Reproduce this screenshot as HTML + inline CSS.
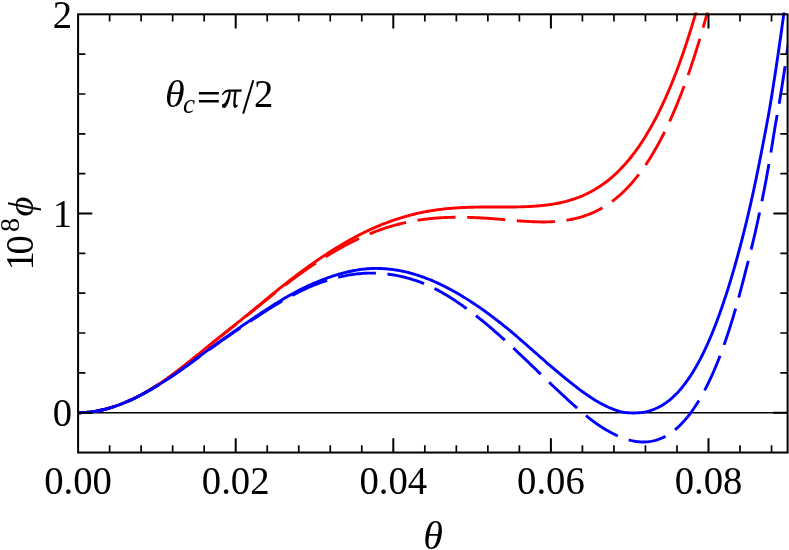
<!DOCTYPE html><html><head><meta charset="utf-8"><style>
html,body{margin:0;padding:0;background:#fff}svg{display:block;will-change:transform}text{font-family:"Liberation Serif",serif;fill:#000}
</style></head><body>
<svg width="789" height="550" viewBox="0 0 789 550">
<rect width="789" height="550" fill="#fff"/>
<defs><clipPath id="c"><rect x="78.1" y="12.400000000000011" width="709.5" height="440.13999999999993"/></clipPath></defs>
<line x1="78.1" y1="412.7" x2="787.6" y2="412.7" stroke="#000" stroke-width="1.6"/>
<g clip-path="url(#c)" fill="none" stroke-width="2.9" stroke-linejoin="round">
<path d="M78.10,412.70 L79.29,412.71 L80.48,412.69 L81.67,412.67 L82.86,412.63 L84.05,412.57 L85.24,412.50 L86.43,412.41 L87.62,412.31 L88.81,412.20 L90.01,412.07 L91.20,411.93 L92.39,411.77 L93.58,411.60 L94.77,411.41 L95.96,411.22 L97.15,411.00 L98.34,410.78 L99.53,410.54 L100.72,410.28 L101.91,410.02 L103.10,409.74 L104.29,409.45 L105.48,409.14 L106.67,408.82 L107.86,408.49 L109.05,408.15 L110.24,407.79 L111.44,407.43 L112.63,407.05 L113.82,406.66 L115.01,406.27 L116.20,405.86 L117.39,405.44 L118.58,405.01 L119.77,404.57 L120.96,404.12 L122.15,403.66 L123.34,403.18 L124.53,402.70 L125.72,402.21 L126.91,401.70 L128.10,401.18 L129.29,400.65 L130.48,400.11 L131.67,399.56 L132.87,399.00 L134.06,398.42 L135.25,397.83 L136.44,397.23 L137.63,396.62 L138.82,396.00 L140.01,395.36 L141.20,394.72 L142.39,394.06 L143.58,393.40 L144.77,392.72 L145.96,392.04 L147.15,391.35 L148.34,390.65 L149.53,389.94 L150.72,389.22 L151.91,388.50 L153.10,387.76 L154.30,387.02 L155.49,386.27 L156.68,385.50 L157.87,384.74 L159.06,383.96 L160.25,383.17 L161.44,382.38 L162.63,381.58 L163.82,380.77 L165.01,379.95 L166.20,379.13 L167.39,378.29 L168.58,377.45 L169.77,376.61 L170.96,375.75 L172.15,374.88 L173.34,374.01 L174.53,373.12 L175.73,372.23 L176.92,371.33 L178.11,370.42 L179.30,369.51 L180.49,368.59 L181.68,367.66 L182.87,366.72 L184.06,365.79 L185.25,364.84 L186.44,363.89 L187.63,362.94 L188.82,361.99 L190.01,361.03 L191.20,360.06 L192.39,359.10 L193.58,358.13 L194.77,357.17 L195.96,356.20 L197.16,355.23 L198.35,354.26 L199.54,353.29 L200.73,352.32 L201.92,351.35 L203.11,350.38 L204.30,349.42 L205.49,348.45 L206.68,347.49 L207.87,346.53 L209.06,345.57 L210.25,344.61 L211.44,343.66 L212.63,342.70 L213.82,341.74 L215.01,340.79 L216.20,339.84 L217.39,338.88 L218.59,337.93 L219.78,336.98 L220.97,336.03 L222.16,335.07 L223.35,334.12 L224.54,333.17 L225.73,332.22 L226.92,331.27 L228.11,330.32 L229.30,329.37 L230.49,328.42 L231.68,327.46 L232.87,326.51 L234.06,325.56 L235.25,324.60 L236.44,323.65 L237.63,322.69 L238.82,321.74 L240.01,320.78 L241.21,319.82 L242.40,318.86 L243.59,317.90 L244.78,316.94 L245.97,315.97 L247.16,315.01 L248.35,314.04 L249.54,313.07 L250.73,312.10 L251.92,311.13 L253.11,310.15 L254.30,309.18 L255.49,308.20 L256.68,307.22 L257.87,306.23 L259.06,305.24 L260.25,304.25 L261.44,303.27 L262.64,302.28 L263.83,301.29 L265.02,300.31 L266.21,299.33 L267.40,298.35 L268.59,297.37 L269.78,296.39 L270.97,295.42 L272.16,294.45 L273.35,293.48 L274.54,292.51 L275.73,291.55 L276.92,290.59 L278.11,289.63 L279.30,288.68 L280.49,287.73 L281.68,286.78 L282.87,285.84 L284.07,284.89 L285.26,283.96 L286.45,283.02 L287.64,282.09 L288.83,281.16 L290.02,280.24 L291.21,279.32 L292.40,278.40 L293.59,277.49 L294.78,276.58 L295.97,275.68 L297.16,274.78 L298.35,273.88 L299.54,272.99 L300.73,272.11 L301.92,271.22 L303.11,270.35 L304.30,269.47 L305.50,268.61 L306.69,267.74 L307.88,266.89 L309.07,266.03 L310.26,265.18 L311.45,264.34 L312.64,263.50 L313.83,262.67 L315.02,261.84 L316.21,261.02 L317.40,260.20 L318.59,259.39 L319.78,258.59 L320.97,257.79 L322.16,256.99 L323.35,256.20 L324.54,255.41 L325.73,254.63 L326.93,253.85 L328.12,253.08 L329.31,252.32 L330.50,251.55 L331.69,250.80 L332.88,250.05 L334.07,249.30 L335.26,248.56 L336.45,247.83 L337.64,247.10 L338.83,246.37 L340.02,245.65 L341.21,244.94 L342.40,244.24 L343.59,243.54 L344.78,242.84 L345.97,242.15 L347.16,241.47 L348.36,240.80 L349.55,240.13 L350.74,239.47 L351.93,238.81 L353.12,238.16 L354.31,237.52 L355.50,236.88 L356.69,236.25 L357.88,235.63 L359.07,235.01 L360.26,234.40 L361.45,233.80 L362.64,233.20 L363.83,232.61 L365.02,232.03 L366.21,231.46 L367.40,230.89 L368.59,230.33 L369.78,229.78 L370.98,229.23 L372.17,228.69 L373.36,228.16 L374.55,227.64 L375.74,227.12 L376.93,226.61 L378.12,226.11 L379.31,225.62 L380.50,225.14 L381.69,224.66 L382.88,224.18 L384.07,223.72 L385.26,223.26 L386.45,222.81 L387.64,222.36 L388.83,221.92 L390.02,221.49 L391.21,221.07 L392.41,220.65 L393.60,220.23 L394.79,219.83 L395.98,219.43 L397.17,219.04 L398.36,218.65 L399.55,218.28 L400.74,217.91 L401.93,217.54 L403.12,217.18 L404.31,216.83 L405.50,216.49 L406.69,216.15 L407.88,215.82 L409.07,215.50 L410.26,215.18 L411.45,214.87 L412.64,214.57 L413.84,214.28 L415.03,213.99 L416.22,213.70 L417.41,213.43 L418.60,213.16 L419.79,212.90 L420.98,212.64 L422.17,212.39 L423.36,212.15 L424.55,211.92 L425.74,211.69 L426.93,211.47 L428.12,211.25 L429.31,211.05 L430.50,210.84 L431.69,210.65 L432.88,210.46 L434.07,210.28 L435.27,210.10 L436.46,209.93 L437.65,209.77 L438.84,209.61 L440.03,209.46 L441.22,209.32 L442.41,209.18 L443.60,209.04 L444.79,208.92 L445.98,208.79 L447.17,208.67 L448.36,208.56 L449.55,208.45 L450.74,208.35 L451.93,208.25 L453.12,208.16 L454.31,208.07 L455.50,207.98 L456.70,207.90 L457.89,207.83 L459.08,207.75 L460.27,207.69 L461.46,207.62 L462.65,207.56 L463.84,207.51 L465.03,207.45 L466.22,207.40 L467.41,207.36 L468.60,207.32 L469.79,207.28 L470.98,207.24 L472.17,207.21 L473.36,207.18 L474.55,207.15 L475.74,207.13 L476.93,207.11 L478.13,207.09 L479.32,207.07 L480.51,207.06 L481.70,207.04 L482.89,207.03 L484.08,207.02 L485.27,207.02 L486.46,207.01 L487.65,207.01 L488.84,207.00 L490.03,207.00 L491.22,207.00 L492.41,207.00 L493.60,207.00 L494.79,207.00 L495.98,207.00 L497.17,207.00 L498.36,207.01 L499.56,207.01 L500.75,207.01 L501.94,207.01 L503.13,207.01 L504.32,207.01 L505.51,207.01 L506.70,207.01 L507.89,207.00 L509.08,207.00 L510.27,206.99 L511.46,206.98 L512.65,206.97 L513.84,206.96 L515.03,206.95 L516.22,206.93 L517.41,206.91 L518.60,206.88 L519.79,206.86 L520.98,206.83 L522.18,206.80 L523.37,206.76 L524.56,206.72 L525.75,206.67 L526.94,206.63 L528.13,206.57 L529.32,206.52 L530.51,206.45 L531.70,206.39 L532.89,206.31 L534.08,206.24 L535.27,206.15 L536.46,206.06 L537.65,205.97 L538.84,205.87 L540.03,205.76 L541.22,205.65 L542.41,205.52 L543.61,205.40 L544.80,205.26 L545.99,205.12 L547.18,204.97 L548.37,204.81 L549.56,204.64 L550.75,204.46 L551.94,204.28 L553.13,204.09 L554.32,203.88 L555.51,203.67 L556.70,203.45 L557.89,203.22 L559.08,202.98 L560.27,202.72 L561.46,202.46 L562.65,202.19 L563.84,201.90 L565.04,201.60 L566.23,201.30 L567.42,200.97 L568.61,200.64 L569.80,200.29 L570.99,199.94 L572.18,199.56 L573.37,199.18 L574.56,198.78 L575.75,198.36 L576.94,197.93 L578.13,197.49 L579.32,197.03 L580.51,196.56 L581.70,196.07 L582.89,195.56 L584.08,195.04 L585.27,194.50 L586.47,193.95 L587.66,193.37 L588.85,192.78 L590.04,192.17 L591.23,191.54 L592.42,190.89 L593.61,190.22 L594.80,189.53 L595.99,188.82 L597.18,188.09 L598.37,187.34 L599.56,186.57 L600.75,185.78 L601.94,184.97 L603.13,184.13 L604.32,183.27 L605.51,182.38 L606.70,181.48 L607.90,180.55 L609.09,179.59 L610.28,178.61 L611.47,177.61 L612.66,176.58 L613.85,175.52 L615.04,174.44 L616.23,173.33 L617.42,172.19 L618.61,171.03 L619.80,169.83 L620.99,168.61 L622.18,167.36 L623.37,166.08 L624.56,164.77 L625.75,163.43 L626.94,162.06 L628.13,160.66 L629.33,159.23 L630.52,157.76 L631.71,156.26 L632.90,154.73 L634.09,153.17 L635.28,151.57 L636.47,149.94 L637.66,148.27 L638.85,146.56 L640.04,144.82 L641.23,143.05 L642.42,141.23 L643.61,139.38 L644.80,137.49 L645.99,135.57 L647.18,133.60 L648.37,131.59 L649.56,129.55 L650.75,127.46 L651.95,125.33 L653.14,123.16 L654.33,120.95 L655.52,118.70 L656.71,116.40 L657.90,114.06 L659.09,111.67 L660.28,109.24 L661.47,106.76 L662.66,104.24 L663.85,101.67 L665.04,99.05 L666.23,96.38 L667.42,93.67 L668.61,90.91 L669.80,88.09 L670.99,85.23 L672.18,82.31 L673.38,79.35 L674.57,76.33 L675.76,73.26 L676.95,70.13 L678.14,66.95 L679.33,63.72 L680.52,60.43 L681.71,57.09 L682.90,53.68 L684.09,50.22 L685.28,46.71 L686.47,43.13 L687.66,39.49 L688.85,35.80 L690.04,32.04 L691.23,28.22 L692.42,24.34 L693.61,20.40 L694.81,16.39 L696.00,12.32 L697.19,8.18 L698.38,3.98 L699.57,-0.29 L700.76,-4.63 L701.95,-9.03 L703.14,-13.51 L704.33,-18.05 L705.52,-22.66 L706.71,-27.35 L707.90,-32.10" stroke="#f00"/>
<path d="M78.10,412.70 L79.29,412.71 L80.48,412.69 L81.67,412.67 L82.86,412.63 L84.05,412.57 L85.24,412.50 L86.43,412.41 L87.62,412.31 L88.81,412.20 L90.01,412.07 L91.20,411.93 L92.39,411.77 L93.58,411.60 L94.77,411.41 L95.96,411.22 L97.15,411.00 L98.34,410.78 L99.53,410.54 L100.72,410.28 L101.91,410.02 L103.10,409.74 L104.29,409.45 L105.48,409.14 L106.67,408.82 L107.86,408.49 L109.05,408.15 L110.24,407.79 L111.44,407.43 L112.63,407.05 L113.82,406.66 L115.01,406.27 L116.20,405.86 L117.39,405.44 L118.58,405.01 L119.77,404.57 L120.96,404.12 L122.15,403.66 L123.34,403.19 L124.53,402.70 L125.72,402.21 L126.91,401.70 L128.10,401.18 L129.29,400.65 L130.48,400.11 L131.67,399.56 L132.87,399.00 L134.06,398.42 L135.25,397.84 L136.44,397.24 L137.63,396.63 L138.82,396.00 L140.01,395.37 L141.20,394.72 L142.39,394.07 L143.58,393.40 L144.77,392.73 L145.96,392.05 L147.15,391.35 L148.34,390.65 L149.53,389.95 L150.72,389.23 L151.91,388.50 L153.10,387.77 L154.30,387.02 L155.49,386.27 L156.68,385.51 L157.87,384.75 L159.06,383.97 L160.25,383.18 L161.44,382.39 L162.63,381.59 L163.82,380.78 L165.01,379.97 L166.20,379.14 L167.39,378.31 L168.58,377.47 L169.77,376.63 L170.96,375.77 L172.15,374.91 L173.34,374.03 L174.53,373.15 L175.73,372.26 L176.92,371.36 L178.11,370.45 L179.30,369.54 L180.49,368.62 L181.68,367.70 L182.87,366.76 L184.06,365.83 L185.25,364.89 L186.44,363.94 L187.63,362.99 L188.82,362.04 L190.01,361.08 L191.20,360.12 L192.39,359.16 L193.58,358.20 L194.77,357.23 L195.96,356.27 L197.16,355.30 L198.35,354.34 L199.54,353.37 L200.73,352.40 L201.92,351.44 L203.11,350.48 L204.30,349.52 L205.49,348.56 L206.68,347.60 L207.87,346.65 L209.06,345.69 L210.25,344.74 L211.44,343.79 L212.63,342.84 L213.82,341.89 L215.01,340.94 L216.20,339.99 L217.39,339.04 L218.59,338.10 L219.78,337.15 L220.97,336.21 L222.16,335.26 L223.35,334.32 L224.54,333.38 L225.73,332.43 L226.92,331.49 L228.11,330.55 L229.30,329.60 L230.49,328.66 L231.68,327.72 L232.87,326.77 L234.06,325.83 L235.25,324.89 L236.44,323.94 L237.63,323.00 L238.82,322.05 L240.01,321.11 L241.21,320.16 L242.40,319.21 L243.59,318.26 L244.78,317.31 L245.97,316.36 L247.16,315.41 L248.35,314.45 L249.54,313.50 L250.73,312.54 L251.92,311.58 L253.11,310.62 L254.30,309.66 L255.49,308.69 L256.68,307.73 L257.87,306.76 L259.06,305.79 L260.25,304.81 L261.44,303.84 L262.64,302.87 L263.83,301.90 L265.02,300.93 L266.21,299.97 L267.40,299.01 L268.59,298.05 L269.78,297.09 L270.97,296.14 L272.16,295.19 L273.35,294.24 L274.54,293.29 L275.73,292.35 L276.92,291.41 L278.11,290.48 L279.30,289.55 L280.49,288.62 L281.68,287.69 L282.87,286.77 L284.07,285.85 L285.26,284.94 L286.45,284.03 L287.64,283.12 L288.83,282.22 L290.02,281.32 L291.21,280.43 L292.40,279.54 L293.59,278.66 L294.78,277.78 L295.97,276.90 L297.16,276.03 L298.35,275.17 L299.54,274.30 L300.73,273.45 L301.92,272.60 L303.11,271.75 L304.30,270.91 L305.50,270.07 L306.69,269.24 L307.88,268.42 L309.07,267.60 L310.26,266.78 L311.45,265.98 L312.64,265.17 L313.83,264.38 L315.02,263.58 L316.21,262.80 L317.40,262.02 L318.59,261.25 L319.78,260.48 L320.97,259.72 L322.16,258.96 L323.35,258.21 L324.54,257.46 L325.73,256.72 L326.93,255.99 L328.12,255.26 L329.31,254.53 L330.50,253.82 L331.69,253.10 L332.88,252.40 L334.07,251.70 L335.26,251.00 L336.45,250.31 L337.64,249.63 L338.83,248.96 L340.02,248.29 L341.21,247.62 L342.40,246.97 L343.59,246.32 L344.78,245.67 L345.97,245.03 L347.16,244.40 L348.36,243.78 L349.55,243.16 L350.74,242.55 L351.93,241.95 L353.12,241.35 L354.31,240.77 L355.50,240.18 L356.69,239.61 L357.88,239.04 L359.07,238.48 L360.26,237.93 L361.45,237.38 L362.64,236.85 L363.83,236.32 L365.02,235.79 L366.21,235.28 L367.40,234.77 L368.59,234.27 L369.78,233.78 L370.98,233.29 L372.17,232.81 L373.36,232.35 L374.55,231.88 L375.74,231.43 L376.93,230.99 L378.12,230.55 L379.31,230.12 L380.50,229.70 L381.69,229.28 L382.88,228.88 L384.07,228.48 L385.26,228.09 L386.45,227.70 L387.64,227.33 L388.83,226.96 L390.02,226.59 L391.21,226.24 L392.41,225.89 L393.60,225.55 L394.79,225.22 L395.98,224.90 L397.17,224.58 L398.36,224.27 L399.55,223.97 L400.74,223.67 L401.93,223.38 L403.12,223.10 L404.31,222.83 L405.50,222.56 L406.69,222.30 L407.88,222.05 L409.07,221.81 L410.26,221.57 L411.45,221.34 L412.64,221.12 L413.84,220.90 L415.03,220.69 L416.22,220.49 L417.41,220.29 L418.60,220.10 L419.79,219.92 L420.98,219.74 L422.17,219.57 L423.36,219.41 L424.55,219.25 L425.74,219.10 L426.93,218.96 L428.12,218.82 L429.31,218.69 L430.50,218.57 L431.69,218.45 L432.88,218.34 L434.07,218.23 L435.27,218.14 L436.46,218.04 L437.65,217.95 L438.84,217.87 L440.03,217.80 L441.22,217.73 L442.41,217.66 L443.60,217.60 L444.79,217.54 L445.98,217.49 L447.17,217.45 L448.36,217.40 L449.55,217.37 L450.74,217.34 L451.93,217.31 L453.12,217.29 L454.31,217.27 L455.50,217.25 L456.70,217.24 L457.89,217.24 L459.08,217.24 L460.27,217.24 L461.46,217.25 L462.65,217.26 L463.84,217.27 L465.03,217.29 L466.22,217.32 L467.41,217.34 L468.60,217.38 L469.79,217.41 L470.98,217.45 L472.17,217.49 L473.36,217.54 L474.55,217.58 L475.74,217.64 L476.93,217.69 L478.13,217.75 L479.32,217.81 L480.51,217.88 L481.70,217.94 L482.89,218.01 L484.08,218.09 L485.27,218.16 L486.46,218.24 L487.65,218.32 L488.84,218.40 L490.03,218.49 L491.22,218.57 L492.41,218.66 L493.60,218.75 L494.79,218.85 L495.98,218.94 L497.17,219.03 L498.36,219.13 L499.56,219.23 L500.75,219.33 L501.94,219.43 L503.13,219.53 L504.32,219.63 L505.51,219.74 L506.70,219.84 L507.89,219.94 L509.08,220.05 L510.27,220.15 L511.46,220.26 L512.65,220.36 L513.84,220.46 L515.03,220.56 L516.22,220.66 L517.41,220.75 L518.60,220.84 L519.79,220.94 L520.98,221.02 L522.18,221.11 L523.37,221.19 L524.56,221.27 L525.75,221.35 L526.94,221.42 L528.13,221.49 L529.32,221.56 L530.51,221.62 L531.70,221.67 L532.89,221.73 L534.08,221.77 L535.27,221.81 L536.46,221.85 L537.65,221.88 L538.84,221.91 L540.03,221.92 L541.22,221.94 L542.41,221.94 L543.61,221.94 L544.80,221.94 L545.99,221.92 L547.18,221.90 L548.37,221.87 L549.56,221.83 L550.75,221.78 L551.94,221.73 L553.13,221.66 L554.32,221.59 L555.51,221.51 L556.70,221.42 L557.89,221.31 L559.08,221.20 L560.27,221.08 L561.46,220.95 L562.65,220.80 L563.84,220.65 L565.04,220.48 L566.23,220.30 L567.42,220.11 L568.61,219.91 L569.80,219.69 L570.99,219.47 L572.18,219.22 L573.37,218.97 L574.56,218.70 L575.75,218.42 L576.94,218.12 L578.13,217.80 L579.32,217.48 L580.51,217.13 L581.70,216.78 L582.89,216.40 L584.08,216.02 L585.27,215.61 L586.47,215.19 L587.66,214.76 L588.85,214.30 L590.04,213.83 L591.23,213.35 L592.42,212.84 L593.61,212.32 L594.80,211.77 L595.99,211.21 L597.18,210.63 L598.37,210.02 L599.56,209.40 L600.75,208.75 L601.94,208.09 L603.13,207.40 L604.32,206.69 L605.51,205.95 L606.70,205.19 L607.90,204.41 L609.09,203.60 L610.28,202.77 L611.47,201.91 L612.66,201.03 L613.85,200.12 L615.04,199.18 L616.23,198.22 L617.42,197.23 L618.61,196.21 L619.80,195.16 L620.99,194.08 L622.18,192.98 L623.37,191.84 L624.56,190.68 L625.75,189.49 L626.94,188.27 L628.13,187.02 L629.33,185.74 L630.52,184.43 L631.71,183.09 L632.90,181.71 L634.09,180.31 L635.28,178.87 L636.47,177.40 L637.66,175.89 L638.85,174.35 L640.04,172.78 L641.23,171.17 L642.42,169.53 L643.61,167.85 L644.80,166.14 L645.99,164.39 L647.18,162.60 L648.37,160.78 L649.56,158.91 L650.75,157.01 L651.95,155.07 L653.14,153.09 L654.33,151.08 L655.52,149.02 L656.71,146.92 L657.90,144.77 L659.09,142.59 L660.28,140.36 L661.47,138.10 L662.66,135.78 L663.85,133.43 L665.04,131.03 L666.23,128.58 L667.42,126.09 L668.61,123.56 L669.80,120.97 L670.99,118.34 L672.18,115.66 L673.38,112.94 L674.57,110.16 L675.76,107.34 L676.95,104.47 L678.14,101.54 L679.33,98.57 L680.52,95.54 L681.71,92.46 L682.90,89.33 L684.09,86.15 L685.28,82.91 L686.47,79.62 L687.66,76.27 L688.85,72.87 L690.04,69.41 L691.23,65.89 L692.42,62.32 L693.61,58.69 L694.81,55.00 L696.00,51.25 L697.19,47.44 L698.38,43.57 L699.57,39.64 L700.76,35.65 L701.95,31.59 L703.14,27.47 L704.33,23.29 L705.52,19.05 L706.71,14.74 L707.90,10.36 L709.09,5.92 L710.28,1.41 L711.47,-3.17 L712.66,-7.81 L713.85,-12.52 L715.04,-17.31 L716.24,-22.16 L717.43,-27.09 L718.62,-32.08" stroke="#f00" stroke-dasharray="38.2 11.6" stroke-dashoffset="2"/>
<path d="M78.10,412.70 L79.29,412.71 L80.48,412.69 L81.67,412.67 L82.86,412.63 L84.05,412.57 L85.24,412.50 L86.43,412.41 L87.62,412.31 L88.81,412.20 L90.01,412.07 L91.20,411.93 L92.39,411.77 L93.58,411.60 L94.77,411.42 L95.96,411.22 L97.15,411.00 L98.34,410.78 L99.53,410.54 L100.72,410.29 L101.91,410.02 L103.10,409.74 L104.29,409.45 L105.48,409.15 L106.67,408.83 L107.86,408.50 L109.05,408.16 L110.24,407.81 L111.44,407.44 L112.63,407.06 L113.82,406.68 L115.01,406.28 L116.20,405.87 L117.39,405.45 L118.58,405.02 L119.77,404.58 L120.96,404.13 L122.15,403.67 L123.34,403.19 L124.53,402.71 L125.72,402.22 L126.91,401.72 L128.10,401.20 L129.29,400.68 L130.48,400.14 L131.67,399.60 L132.87,399.05 L134.06,398.48 L135.25,397.91 L136.44,397.32 L137.63,396.73 L138.82,396.13 L140.01,395.51 L141.20,394.89 L142.39,394.26 L143.58,393.62 L144.77,392.98 L145.96,392.32 L147.15,391.66 L148.34,390.99 L149.53,390.31 L150.72,389.63 L151.91,388.93 L153.10,388.23 L154.30,387.53 L155.49,386.81 L156.68,386.09 L157.87,385.36 L159.06,384.62 L160.25,383.88 L161.44,383.13 L162.63,382.37 L163.82,381.60 L165.01,380.83 L166.20,380.05 L167.39,379.27 L168.58,378.48 L169.77,377.68 L170.96,376.87 L172.15,376.06 L173.34,375.24 L174.53,374.42 L175.73,373.59 L176.92,372.76 L178.11,371.92 L179.30,371.08 L180.49,370.24 L181.68,369.39 L182.87,368.53 L184.06,367.67 L185.25,366.81 L186.44,365.95 L187.63,365.08 L188.82,364.21 L190.01,363.34 L191.20,362.47 L192.39,361.60 L193.58,360.72 L194.77,359.84 L195.96,358.96 L197.16,358.08 L198.35,357.20 L199.54,356.32 L200.73,355.44 L201.92,354.56 L203.11,353.68 L204.30,352.81 L205.49,351.93 L206.68,351.06 L207.87,350.19 L209.06,349.32 L210.25,348.45 L211.44,347.59 L212.63,346.73 L213.82,345.87 L215.01,345.01 L216.20,344.15 L217.39,343.29 L218.59,342.44 L219.78,341.59 L220.97,340.74 L222.16,339.89 L223.35,339.04 L224.54,338.20 L225.73,337.36 L226.92,336.52 L228.11,335.68 L229.30,334.84 L230.49,334.00 L231.68,333.17 L232.87,332.34 L234.06,331.50 L235.25,330.68 L236.44,329.85 L237.63,329.02 L238.82,328.20 L240.01,327.38 L241.21,326.55 L242.40,325.73 L243.59,324.92 L244.78,324.10 L245.97,323.29 L247.16,322.47 L248.35,321.66 L249.54,320.85 L250.73,320.04 L251.92,319.23 L253.11,318.43 L254.30,317.62 L255.49,316.82 L256.68,316.02 L257.87,315.22 L259.06,314.42 L260.25,313.62 L261.44,312.82 L262.64,312.03 L263.83,311.24 L265.02,310.46 L266.21,309.68 L267.40,308.90 L268.59,308.13 L269.78,307.36 L270.97,306.60 L272.16,305.84 L273.35,305.09 L274.54,304.34 L275.73,303.60 L276.92,302.86 L278.11,302.13 L279.30,301.40 L280.49,300.68 L281.68,299.97 L282.87,299.26 L284.07,298.56 L285.26,297.86 L286.45,297.17 L287.64,296.48 L288.83,295.80 L290.02,295.13 L291.21,294.47 L292.40,293.81 L293.59,293.16 L294.78,292.52 L295.97,291.88 L297.16,291.25 L298.35,290.63 L299.54,290.01 L300.73,289.40 L301.92,288.81 L303.11,288.21 L304.30,287.63 L305.50,287.05 L306.69,286.49 L307.88,285.93 L309.07,285.38 L310.26,284.83 L311.45,284.30 L312.64,283.77 L313.83,283.26 L315.02,282.75 L316.21,282.25 L317.40,281.76 L318.59,281.28 L319.78,280.81 L320.97,280.34 L322.16,279.88 L323.35,279.43 L324.54,278.99 L325.73,278.55 L326.93,278.12 L328.12,277.70 L329.31,277.28 L330.50,276.87 L331.69,276.47 L332.88,276.08 L334.07,275.70 L335.26,275.32 L336.45,274.95 L337.64,274.59 L338.83,274.24 L340.02,273.90 L341.21,273.56 L342.40,273.24 L343.59,272.92 L344.78,272.62 L345.97,272.32 L347.16,272.03 L348.36,271.75 L349.55,271.49 L350.74,271.23 L351.93,270.98 L353.12,270.75 L354.31,270.52 L355.50,270.31 L356.69,270.10 L357.88,269.91 L359.07,269.73 L360.26,269.56 L361.45,269.40 L362.64,269.25 L363.83,269.11 L365.02,268.99 L366.21,268.87 L367.40,268.77 L368.59,268.68 L369.78,268.61 L370.98,268.54 L372.17,268.49 L373.36,268.45 L374.55,268.43 L375.74,268.42 L376.93,268.42 L378.12,268.43 L379.31,268.46 L380.50,268.50 L381.69,268.55 L382.88,268.61 L384.07,268.68 L385.26,268.77 L386.45,268.86 L387.64,268.97 L388.83,269.09 L390.02,269.22 L391.21,269.36 L392.41,269.51 L393.60,269.67 L394.79,269.84 L395.98,270.03 L397.17,270.22 L398.36,270.43 L399.55,270.64 L400.74,270.87 L401.93,271.11 L403.12,271.36 L404.31,271.62 L405.50,271.89 L406.69,272.17 L407.88,272.46 L409.07,272.76 L410.26,273.08 L411.45,273.40 L412.64,273.73 L413.84,274.08 L415.03,274.43 L416.22,274.80 L417.41,275.17 L418.60,275.56 L419.79,275.95 L420.98,276.36 L422.17,276.77 L423.36,277.20 L424.55,277.64 L425.74,278.08 L426.93,278.54 L428.12,279.00 L429.31,279.48 L430.50,279.96 L431.69,280.46 L432.88,280.96 L434.07,281.47 L435.27,282.00 L436.46,282.53 L437.65,283.07 L438.84,283.62 L440.03,284.18 L441.22,284.75 L442.41,285.33 L443.60,285.91 L444.79,286.51 L445.98,287.11 L447.17,287.72 L448.36,288.34 L449.55,288.97 L450.74,289.60 L451.93,290.25 L453.12,290.90 L454.31,291.56 L455.50,292.23 L456.70,292.91 L457.89,293.60 L459.08,294.29 L460.27,295.00 L461.46,295.71 L462.65,296.42 L463.84,297.15 L465.03,297.88 L466.22,298.62 L467.41,299.37 L468.60,300.13 L469.79,300.89 L470.98,301.67 L472.17,302.45 L473.36,303.23 L474.55,304.03 L475.74,304.83 L476.93,305.64 L478.13,306.45 L479.32,307.27 L480.51,308.10 L481.70,308.94 L482.89,309.78 L484.08,310.63 L485.27,311.49 L486.46,312.35 L487.65,313.22 L488.84,314.10 L490.03,314.98 L491.22,315.87 L492.41,316.76 L493.60,317.67 L494.79,318.57 L495.98,319.49 L497.17,320.40 L498.36,321.33 L499.56,322.26 L500.75,323.19 L501.94,324.14 L503.13,325.09 L504.32,326.04 L505.51,327.01 L506.70,327.98 L507.89,328.96 L509.08,329.94 L510.27,330.93 L511.46,331.93 L512.65,332.93 L513.84,333.93 L515.03,334.94 L516.22,335.96 L517.41,336.98 L518.60,338.00 L519.79,339.03 L520.98,340.06 L522.18,341.09 L523.37,342.13 L524.56,343.17 L525.75,344.21 L526.94,345.25 L528.13,346.30 L529.32,347.35 L530.51,348.40 L531.70,349.45 L532.89,350.50 L534.08,351.55 L535.27,352.60 L536.46,353.65 L537.65,354.70 L538.84,355.75 L540.03,356.80 L541.22,357.85 L542.41,358.89 L543.61,359.94 L544.80,360.98 L545.99,362.02 L547.18,363.05 L548.37,364.09 L549.56,365.11 L550.75,366.14 L551.94,367.16 L553.13,368.18 L554.32,369.19 L555.51,370.20 L556.70,371.20 L557.89,372.19 L559.08,373.18 L560.27,374.16 L561.46,375.14 L562.65,376.12 L563.84,377.09 L565.03,378.05 L566.21,379.01 L567.39,379.96 L568.56,380.91 L569.74,381.86 L570.91,382.79 L572.08,383.72 L573.25,384.64 L574.41,385.56 L575.58,386.46 L576.74,387.36 L577.90,388.25 L579.06,389.13 L580.22,390.00 L581.38,390.86 L582.54,391.71 L583.69,392.54 L584.85,393.37 L586.00,394.19 L587.15,394.99 L588.31,395.78 L589.46,396.56 L590.61,397.32 L591.76,398.07 L592.91,398.81 L594.06,399.53 L595.21,400.24 L596.35,400.93 L597.50,401.60 L598.65,402.26 L599.80,402.90 L600.94,403.53 L602.09,404.14 L603.24,404.74 L604.38,405.32 L605.53,405.89 L606.68,406.44 L607.82,406.97 L608.97,407.49 L610.12,407.98 L611.27,408.46 L612.42,408.93 L613.57,409.37 L614.72,409.79 L615.87,410.20 L617.02,410.58 L618.18,410.94 L619.33,411.28 L620.49,411.58 L621.65,411.84 L622.81,412.08 L623.97,412.28 L625.13,412.45 L626.29,412.59 L627.46,412.71 L628.63,412.80 L629.80,412.87 L630.97,412.91 L632.14,412.94 L633.32,412.94 L634.50,412.93 L635.68,412.90 L636.86,412.85 L638.04,412.80 L639.23,412.72 L640.42,412.61 L641.61,412.48 L642.80,412.32 L643.99,412.13 L645.18,411.91 L646.37,411.66 L647.56,411.38 L648.75,411.07 L649.95,410.72 L651.14,410.35 L652.33,409.94 L653.52,409.50 L654.71,409.03 L655.90,408.52 L657.09,407.98 L658.28,407.40 L659.47,406.79 L660.66,406.14 L661.85,405.45 L663.04,404.73 L664.23,403.97 L665.42,403.17 L666.61,402.33 L667.79,401.45 L668.98,400.53 L670.16,399.57 L671.34,398.57 L672.52,397.53 L673.70,396.44 L674.88,395.31 L676.06,394.14 L677.23,392.92 L678.41,391.66 L679.58,390.35 L680.75,388.99 L681.92,387.59 L683.09,386.14 L684.26,384.63 L685.43,383.08 L686.60,381.48 L687.78,379.83 L688.95,378.13 L690.13,376.38 L691.31,374.57 L692.50,372.71 L693.68,370.79 L694.87,368.82 L696.05,366.79 L697.23,364.70 L698.42,362.56 L699.60,360.36 L700.79,358.10 L701.97,355.78 L703.16,353.40 L704.34,350.95 L705.53,348.45 L706.71,345.88 L707.90,343.24 L709.08,340.54 L710.27,337.77 L711.46,334.94 L712.65,332.04 L713.84,329.07 L715.03,326.03 L716.22,322.92 L717.41,319.74 L718.61,316.48 L719.82,313.15 L721.03,309.75 L722.24,306.27 L723.45,302.72 L724.67,299.08 L725.90,295.37 L727.12,291.58 L728.35,287.71 L729.58,283.76 L730.81,279.73 L732.04,275.61 L733.27,271.41 L734.50,267.12 L735.74,262.74 L736.98,258.28 L738.23,253.73 L739.48,249.09 L740.73,244.36 L741.99,239.53 L743.25,234.61 L744.51,229.60 L745.77,224.49 L747.04,219.29 L748.30,213.98 L749.56,208.58 L750.82,203.08 L752.07,197.47 L753.32,191.77 L754.57,185.95 L755.82,180.04 L757.07,174.01 L758.31,167.88 L759.57,161.64 L760.82,155.28 L762.08,148.82 L763.36,142.24 L764.65,135.55 L765.95,128.74 L767.24,121.81 L768.53,114.76 L769.78,107.60 L771.00,100.31 L772.19,92.90 L773.38,85.36 L774.57,77.70 L775.76,69.91 L776.95,61.99 L778.14,53.94 L779.33,45.76 L780.53,37.44 L781.72,28.99 L782.91,20.40 L784.10,11.67 L785.29,2.81 L786.48,-6.20 L787.67,-15.36 L788.86,-24.65 L790.05,-34.10" stroke="#00f"/>
<path d="M78.10,412.70 L79.29,412.71 L80.48,412.69 L81.67,412.67 L82.86,412.63 L84.05,412.57 L85.24,412.50 L86.43,412.41 L87.62,412.31 L88.81,412.20 L90.01,412.07 L91.20,411.93 L92.39,411.77 L93.58,411.60 L94.77,411.42 L95.96,411.22 L97.15,411.01 L98.34,410.78 L99.53,410.54 L100.72,410.29 L101.91,410.02 L103.10,409.74 L104.29,409.45 L105.48,409.15 L106.67,408.83 L107.86,408.50 L109.05,408.16 L110.24,407.81 L111.44,407.44 L112.63,407.07 L113.82,406.68 L115.01,406.28 L116.20,405.88 L117.39,405.46 L118.58,405.03 L119.77,404.59 L120.96,404.14 L122.15,403.68 L123.34,403.21 L124.53,402.72 L125.72,402.23 L126.91,401.73 L128.10,401.22 L129.29,400.70 L130.48,400.16 L131.67,399.62 L132.87,399.07 L134.06,398.51 L135.25,397.94 L136.44,397.35 L137.63,396.76 L138.82,396.16 L140.01,395.55 L141.20,394.93 L142.39,394.30 L143.58,393.67 L144.77,393.02 L145.96,392.37 L147.15,391.71 L148.34,391.05 L149.53,390.37 L150.72,389.69 L151.91,389.00 L153.10,388.30 L154.30,387.60 L155.49,386.89 L156.68,386.17 L157.87,385.44 L159.06,384.71 L160.25,383.97 L161.44,383.23 L162.63,382.47 L163.82,381.71 L165.01,380.95 L166.20,380.17 L167.39,379.39 L168.58,378.61 L169.77,377.81 L170.96,377.01 L172.15,376.21 L173.34,375.40 L174.53,374.58 L175.73,373.76 L176.92,372.93 L178.11,372.10 L179.30,371.27 L180.49,370.43 L181.68,369.59 L182.87,368.74 L184.06,367.89 L185.25,367.04 L186.44,366.18 L187.63,365.32 L188.82,364.46 L190.01,363.60 L191.20,362.74 L192.39,361.87 L193.58,361.00 L194.77,360.13 L195.96,359.26 L197.16,358.39 L198.35,357.52 L199.54,356.65 L200.73,355.78 L201.92,354.91 L203.11,354.04 L204.30,353.17 L205.49,352.31 L206.68,351.45 L207.87,350.59 L209.06,349.73 L210.25,348.88 L211.44,348.02 L212.63,347.17 L213.82,346.32 L215.01,345.48 L216.20,344.63 L217.39,343.79 L218.59,342.95 L219.78,342.11 L220.97,341.27 L222.16,340.43 L223.35,339.60 L224.54,338.77 L225.73,337.94 L226.92,337.11 L228.11,336.28 L229.30,335.46 L230.49,334.64 L231.68,333.82 L232.87,333.00 L234.06,332.18 L235.25,331.37 L236.44,330.55 L237.63,329.74 L238.82,328.93 L240.01,328.13 L241.21,327.32 L242.40,326.52 L243.59,325.71 L244.78,324.91 L245.97,324.11 L247.16,323.32 L248.35,322.52 L249.54,321.73 L250.73,320.93 L251.92,320.14 L253.11,319.35 L254.30,318.57 L255.49,317.78 L256.68,316.99 L257.87,316.21 L259.06,315.43 L260.25,314.65 L261.44,313.87 L262.64,313.10 L263.83,312.33 L265.02,311.56 L266.21,310.80 L267.40,310.04 L268.59,309.28 L269.78,308.54 L270.97,307.79 L272.16,307.05 L273.35,306.32 L274.54,305.59 L275.73,304.86 L276.92,304.14 L278.11,303.43 L279.30,302.72 L280.49,302.02 L281.68,301.32 L282.87,300.63 L284.07,299.95 L285.26,299.27 L286.45,298.60 L287.64,297.94 L288.83,297.28 L290.02,296.63 L291.21,295.99 L292.40,295.35 L293.59,294.72 L294.78,294.10 L295.97,293.48 L297.16,292.87 L298.35,292.27 L299.54,291.68 L300.73,291.10 L301.92,290.52 L303.11,289.96 L304.30,289.40 L305.50,288.85 L306.69,288.30 L307.88,287.77 L309.07,287.25 L310.26,286.73 L311.45,286.22 L312.64,285.73 L313.83,285.24 L315.02,284.76 L316.21,284.29 L317.40,283.83 L318.59,283.38 L319.78,282.94 L320.97,282.50 L322.16,282.08 L323.35,281.67 L324.54,281.26 L325.73,280.87 L326.93,280.48 L328.12,280.10 L329.31,279.73 L330.50,279.37 L331.69,279.02 L332.88,278.68 L334.07,278.35 L335.26,278.03 L336.45,277.71 L337.64,277.41 L338.83,277.12 L340.02,276.84 L341.21,276.56 L342.40,276.30 L343.59,276.05 L344.78,275.80 L345.97,275.57 L347.16,275.35 L348.36,275.13 L349.55,274.93 L350.74,274.74 L351.93,274.56 L353.12,274.39 L354.31,274.22 L355.50,274.07 L356.69,273.93 L357.88,273.81 L359.07,273.69 L360.26,273.58 L361.45,273.48 L362.64,273.40 L363.83,273.32 L365.02,273.26 L366.21,273.20 L367.40,273.16 L368.59,273.13 L369.78,273.11 L370.98,273.10 L372.17,273.10 L373.36,273.12 L374.55,273.14 L375.74,273.18 L376.93,273.23 L378.12,273.28 L379.31,273.35 L380.50,273.44 L381.69,273.53 L382.88,273.63 L384.07,273.74 L385.26,273.86 L386.45,273.99 L387.64,274.13 L388.83,274.28 L390.02,274.44 L391.21,274.61 L392.41,274.79 L393.60,274.98 L394.79,275.18 L395.98,275.39 L397.17,275.61 L398.36,275.85 L399.55,276.09 L400.74,276.35 L401.93,276.61 L403.12,276.89 L404.31,277.18 L405.50,277.48 L406.69,277.79 L407.88,278.11 L409.07,278.44 L410.26,278.79 L411.45,279.15 L412.64,279.52 L413.84,279.90 L415.03,280.29 L416.22,280.70 L417.41,281.11 L418.60,281.54 L419.79,281.98 L420.98,282.44 L422.17,282.90 L423.36,283.38 L424.55,283.87 L425.74,284.38 L426.93,284.89 L428.12,285.42 L429.31,285.96 L430.50,286.52 L431.69,287.08 L432.88,287.66 L434.07,288.25 L435.27,288.86 L436.46,289.48 L437.65,290.11 L438.84,290.75 L440.03,291.41 L441.22,292.08 L442.41,292.76 L443.60,293.45 L444.79,294.15 L445.98,294.86 L447.17,295.58 L448.36,296.30 L449.55,297.04 L450.74,297.79 L451.93,298.54 L453.12,299.31 L454.31,300.08 L455.50,300.87 L456.70,301.66 L457.89,302.46 L459.08,303.27 L460.27,304.09 L461.46,304.92 L462.65,305.76 L463.84,306.60 L465.03,307.46 L466.22,308.32 L467.41,309.19 L468.60,310.07 L469.79,310.96 L470.98,311.85 L472.17,312.76 L473.36,313.67 L474.55,314.58 L475.74,315.51 L476.93,316.44 L478.13,317.39 L479.32,318.33 L480.51,319.29 L481.70,320.25 L482.89,321.22 L484.08,322.20 L485.27,323.18 L486.46,324.17 L487.65,325.17 L488.84,326.17 L490.03,327.18 L491.22,328.20 L492.41,329.22 L493.60,330.25 L494.79,331.28 L495.98,332.32 L497.17,333.36 L498.36,334.41 L499.56,335.47 L500.75,336.53 L501.94,337.59 L503.13,338.66 L504.32,339.74 L505.51,340.82 L506.70,341.90 L507.89,342.99 L509.08,344.09 L510.27,345.18 L511.46,346.29 L512.65,347.39 L513.84,348.50 L515.03,349.62 L516.22,350.73 L517.41,351.85 L518.60,352.98 L519.79,354.10 L520.98,355.23 L522.18,356.36 L523.37,357.50 L524.56,358.63 L525.75,359.77 L526.94,360.91 L528.13,362.05 L529.32,363.19 L530.51,364.34 L531.70,365.48 L532.89,366.63 L534.08,367.78 L535.27,368.92 L536.46,370.07 L537.65,371.22 L538.84,372.37 L540.03,373.52 L541.22,374.66 L542.41,375.81 L543.61,376.96 L544.80,378.10 L545.99,379.24 L547.18,380.38 L548.37,381.52 L549.56,382.66 L550.75,383.80 L551.94,384.93 L553.13,386.06 L554.32,387.19 L555.51,388.31 L556.70,389.43 L557.89,390.55 L559.08,391.66 L560.27,392.77 L561.46,393.88 L562.65,394.99 L563.84,396.09 L565.04,397.19 L566.23,398.29 L567.42,399.38 L568.61,400.47 L569.80,401.56 L570.99,402.64 L572.18,403.71 L573.37,404.78 L574.56,405.85 L575.75,406.90 L576.94,407.95 L578.13,408.99 L579.32,410.02 L580.51,411.04 L581.70,412.05 L582.89,413.05 L584.08,414.04 L585.27,415.02 L586.47,415.99 L587.66,416.95 L588.85,417.89 L590.04,418.82 L591.23,419.73 L592.42,420.63 L593.61,421.52 L594.80,422.39 L595.99,423.24 L597.18,424.08 L598.37,424.90 L599.56,425.70 L600.75,426.48 L601.94,427.25 L603.13,428.00 L604.32,428.74 L605.51,429.46 L606.70,430.17 L607.90,430.86 L609.09,431.53 L610.28,432.19 L611.47,432.83 L612.66,433.45 L613.85,434.05 L615.04,434.63 L616.23,435.20 L617.42,435.74 L618.61,436.27 L619.80,436.77 L620.99,437.26 L622.18,437.72 L623.37,438.16 L624.56,438.58 L625.75,438.98 L626.94,439.36 L628.13,439.71 L629.33,440.04 L630.52,440.35 L631.71,440.63 L632.90,440.88 L634.09,441.11 L635.28,441.32 L636.47,441.50 L637.66,441.65 L638.85,441.77 L640.04,441.87 L641.23,441.94 L642.42,441.98 L643.61,441.99 L644.80,441.97 L645.99,441.92 L647.18,441.84 L648.37,441.73 L649.56,441.58 L650.75,441.40 L651.95,441.19 L653.14,440.94 L654.33,440.66 L655.52,440.34 L656.71,439.99 L657.90,439.60 L659.09,439.18 L660.28,438.72 L661.47,438.22 L662.66,437.69 L663.85,437.12 L665.04,436.50 L666.23,435.85 L667.42,435.16 L668.61,434.43 L669.80,433.66 L670.99,432.85 L672.18,431.99 L673.38,431.09 L674.57,430.15 L675.76,429.17 L676.95,428.14 L678.14,427.07 L679.33,425.95 L680.52,424.79 L681.71,423.58 L682.90,422.32 L684.09,421.01 L685.28,419.66 L686.47,418.26 L687.66,416.81 L688.85,415.31 L690.04,413.76 L691.23,412.15 L692.42,410.50 L693.61,408.79 L694.81,407.03 L696.00,405.22 L697.19,403.35 L698.38,401.43 L699.57,399.45 L700.76,397.41 L701.95,395.32 L703.14,393.16 L704.33,390.95 L705.52,388.68 L706.71,386.34 L707.90,383.94 L709.09,381.48 L710.28,378.96 L711.47,376.37 L712.66,373.72 L713.85,371.00 L715.04,368.21 L716.24,365.35 L717.43,362.43 L718.62,359.44 L719.81,356.37 L721.00,353.24 L722.19,350.03 L723.38,346.76 L724.57,343.40 L725.76,339.98 L726.95,336.47 L728.14,332.89 L729.33,329.24 L730.52,325.51 L731.71,321.69 L732.90,317.80 L734.09,313.83 L735.28,309.77 L736.47,305.63 L737.67,301.41 L738.86,297.11 L740.05,292.72 L741.24,288.24 L742.43,283.67 L743.62,279.02 L744.83,274.28 L746.07,269.45 L747.34,264.52 L748.63,259.50 L749.92,254.39 L751.23,249.19 L752.53,243.89 L753.83,238.49 L755.10,233.00 L756.35,227.41 L757.59,221.71 L758.84,215.92 L760.08,210.03 L761.33,204.03 L762.56,197.93 L763.80,191.72 L765.02,185.41 L766.23,178.98 L767.44,172.45 L768.62,165.82 L769.78,159.07 L770.93,152.20 L772.07,145.23 L773.21,138.14 L774.38,130.93 L775.62,123.61 L776.95,116.17 L778.31,108.61 L779.63,100.93 L780.90,93.13 L782.16,85.20 L783.41,77.16 L784.65,68.98 L785.88,60.68 L787.09,52.25 L788.28,43.69 L789.47,35.00 L790.66,26.18 L791.85,17.22 L793.04,8.14" stroke="#00f" stroke-dasharray="38 11.55" stroke-dashoffset="0.5"/>
</g>
<g stroke="#000" fill="none"><path d="M109.62,452.53999999999996v-7.3M109.62,14.300000000000011v7.3" stroke-width="1.7"/><path d="M141.14,452.53999999999996v-7.3M141.14,14.300000000000011v7.3" stroke-width="1.7"/><path d="M172.66,452.53999999999996v-7.3M172.66,14.300000000000011v7.3" stroke-width="1.7"/><path d="M204.18,452.53999999999996v-7.3M204.18,14.300000000000011v7.3" stroke-width="1.7"/><path d="M235.70,452.53999999999996v-14.2M235.70,14.300000000000011v14.2" stroke-width="2.0"/><path d="M267.22,452.53999999999996v-7.3M267.22,14.300000000000011v7.3" stroke-width="1.7"/><path d="M298.74,452.53999999999996v-7.3M298.74,14.300000000000011v7.3" stroke-width="1.7"/><path d="M330.26,452.53999999999996v-7.3M330.26,14.300000000000011v7.3" stroke-width="1.7"/><path d="M361.78,452.53999999999996v-7.3M361.78,14.300000000000011v7.3" stroke-width="1.7"/><path d="M393.30,452.53999999999996v-14.2M393.30,14.300000000000011v14.2" stroke-width="2.0"/><path d="M424.82,452.53999999999996v-7.3M424.82,14.300000000000011v7.3" stroke-width="1.7"/><path d="M456.34,452.53999999999996v-7.3M456.34,14.300000000000011v7.3" stroke-width="1.7"/><path d="M487.86,452.53999999999996v-7.3M487.86,14.300000000000011v7.3" stroke-width="1.7"/><path d="M519.38,452.53999999999996v-7.3M519.38,14.300000000000011v7.3" stroke-width="1.7"/><path d="M550.90,452.53999999999996v-14.2M550.90,14.300000000000011v14.2" stroke-width="2.0"/><path d="M582.42,452.53999999999996v-7.3M582.42,14.300000000000011v7.3" stroke-width="1.7"/><path d="M613.94,452.53999999999996v-7.3M613.94,14.300000000000011v7.3" stroke-width="1.7"/><path d="M645.46,452.53999999999996v-7.3M645.46,14.300000000000011v7.3" stroke-width="1.7"/><path d="M676.98,452.53999999999996v-7.3M676.98,14.300000000000011v7.3" stroke-width="1.7"/><path d="M708.50,452.53999999999996v-14.2M708.50,14.300000000000011v14.2" stroke-width="2.0"/><path d="M740.02,452.53999999999996v-7.3M740.02,14.300000000000011v7.3" stroke-width="1.7"/><path d="M771.54,452.53999999999996v-7.3M771.54,14.300000000000011v7.3" stroke-width="1.7"/><path d="M78.1,412.70h14.2M787.6,412.70h-14.2" stroke-width="2.0"/><path d="M78.1,372.86h7.3M787.6,372.86h-7.3" stroke-width="1.7"/><path d="M78.1,333.02h7.3M787.6,333.02h-7.3" stroke-width="1.7"/><path d="M78.1,293.18h7.3M787.6,293.18h-7.3" stroke-width="1.7"/><path d="M78.1,253.34h7.3M787.6,253.34h-7.3" stroke-width="1.7"/><path d="M78.1,213.50h14.2M787.6,213.50h-14.2" stroke-width="2.0"/><path d="M78.1,173.66h7.3M787.6,173.66h-7.3" stroke-width="1.7"/><path d="M78.1,133.82h7.3M787.6,133.82h-7.3" stroke-width="1.7"/><path d="M78.1,93.98h7.3M787.6,93.98h-7.3" stroke-width="1.7"/><path d="M78.1,54.14h7.3M787.6,54.14h-7.3" stroke-width="1.7"/></g>
<rect x="78.1" y="14.300000000000011" width="709.5" height="438.23999999999995" fill="none" stroke="#000" stroke-width="2"/>
<text transform="translate(78.10,493.90) scale(1,1.047)" font-size="38.7" text-anchor="middle">0.00</text>
<text transform="translate(235.70,493.90) scale(1,1.047)" font-size="38.7" text-anchor="middle">0.02</text>
<text transform="translate(393.30,493.90) scale(1,1.047)" font-size="38.7" text-anchor="middle">0.04</text>
<text transform="translate(550.90,493.90) scale(1,1.047)" font-size="38.7" text-anchor="middle">0.06</text>
<text transform="translate(708.50,493.90) scale(1,1.047)" font-size="38.7" text-anchor="middle">0.08</text>
<text transform="translate(72.00,426.30) scale(1,1.047)" font-size="38.7" text-anchor="end">0</text>
<text transform="translate(72.00,227.10) scale(1,1.047)" font-size="38.7" text-anchor="end">1</text>
<text transform="translate(72.00,27.90) scale(1,1.047)" font-size="38.7" text-anchor="end">2</text>
<text transform="translate(433.20,548.90) scale(1,0.997)" text-anchor="middle" font-style="italic" font-size="40">θ</text>
<text transform="translate(165.00,106.70) scale(1,0.945)" text-anchor="start" font-style="italic" font-size="40">θ</text>
<text transform="translate(183.00,112.50) scale(1,1.047)" text-anchor="start" font-style="italic" font-size="27.09">c</text>
<path d="M198.9,92h19.9v2.6h-19.9zM198.9,100h19.9v2.6h-19.9z" fill="#000"/>
<g transform="translate(215,82) scale(0.058173)" fill="#000"><path d="M116,220C140,165 175,127 230,127L463,127L453,167L240,167C195,167 165,185 132,226Z"/><path d="M238,160L274,160C266,240 250,320 222,372C212,392 200,412 190,422L150,380C186,350 218,290 238,160Z"/><circle cx="156" cy="410" r="38"/><path d="M334,160L373,160C362,230 355,300 354,350C353,385 358,398 368,398C376,398 381,392 386,387L394,397C386,426 366,447 345,447C322,447 314,420 314,380C314,320 323,240 334,160Z"/></g>
<path d="M253.3,80.2L243.2,113.6" stroke="#000" stroke-width="2" fill="none"/>
<text transform="translate(254.00,106.90) scale(1,1.047)" font-size="38.7" text-anchor="start">2</text>
<text transform="translate(32.70,270.50) rotate(-90) scale(1,1.047)" font-size="38.7" text-anchor="start">1</text>
<text transform="translate(32.70,254.40) rotate(-90) scale(1,1.047)" font-size="38.7" text-anchor="start">0</text>
<text transform="translate(18.80,231.90) rotate(-90) scale(1,0.957)" text-anchor="start" font-size="28">8</text>
<text transform="translate(33.00,216.40) rotate(-90) scale(1,0.95)" font-size="38.7" text-anchor="start" font-style="italic">ϕ</text>
</svg></body></html>
